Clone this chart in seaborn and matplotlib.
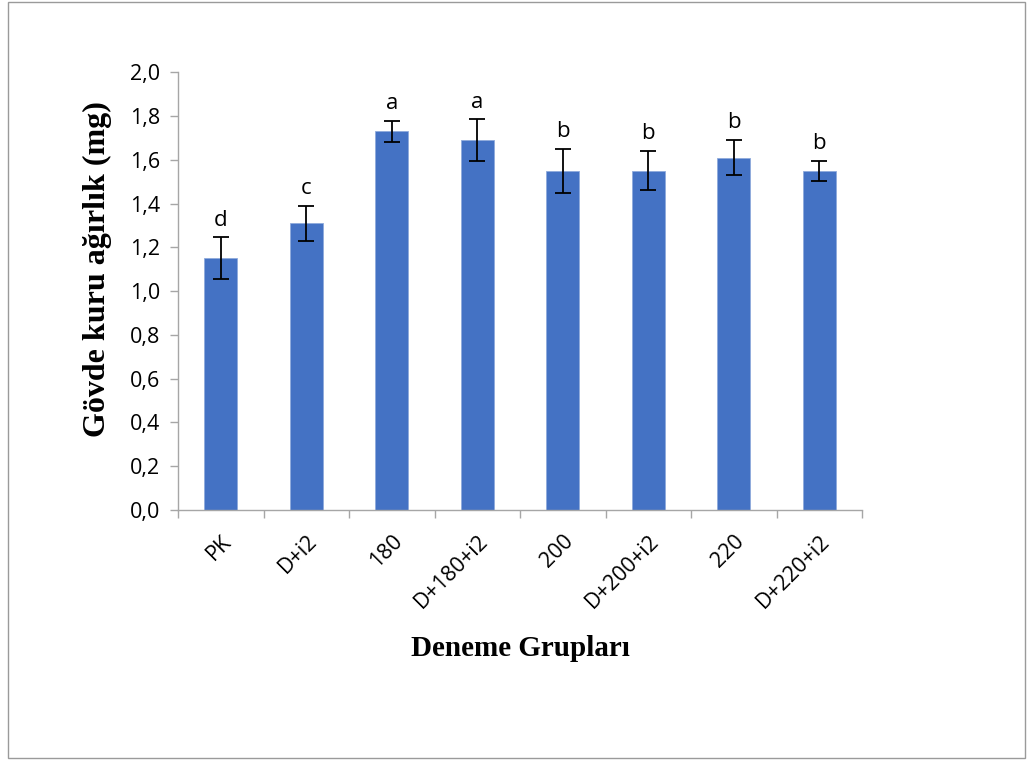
import numpy as np
import pandas as pd
import seaborn as sns
import matplotlib.pyplot as plt
from matplotlib.patches import Rectangle
from matplotlib.ticker import FuncFormatter, MultipleLocator

groups = ["PK", "D+i2", "180", "D+180+i2", "200", "D+200+i2", "220", "D+220+i2"]
means = [1.15, 1.31, 1.73, 1.69, 1.55, 1.55, 1.61, 1.55]
errors = [0.095, 0.08, 0.048, 0.095, 0.10, 0.09, 0.08, 0.045]
letters = ["d", "c", "a", "a", "b", "b", "b", "b"]

df = pd.DataFrame({"grup": groups, "deger": means})

sns.set_theme(style="white")
plt.rcParams["font.family"] = ["Open Sans", "DejaVu Sans"]
plt.rcParams["text.color"] = "black"
plt.rcParams["axes.labelcolor"] = "black"
plt.rcParams["xtick.labelcolor"] = "black"
plt.rcParams["ytick.labelcolor"] = "black"

fig = plt.figure(figsize=(10.31, 7.6), dpi=100)
ax = fig.add_axes([0.1727, 0.329, 0.6634, 0.576])

sns.barplot(data=df, x="grup", y="deger", color="#4472C4", saturation=1,
            width=0.39, errorbar=None, ax=ax)
for p in ax.patches:
    p.set_edgecolor("#8FAADC")
    p.set_linewidth(0.6)

xs = np.arange(len(groups))
ax.errorbar(xs, means, yerr=errors, fmt="none", ecolor="black",
            elinewidth=1.3, capsize=6, capthick=1.3)

# significance letters above each error bar
for x, m, e, l in zip(xs, means, errors, letters):
    ax.text(x, m + e + 0.03, l, ha="center", va="bottom", fontsize=16,
            color="black")

ax.set_ylim(0, 2.0)
ax.set_xlim(-0.5, len(groups) - 0.5)
ax.yaxis.set_major_locator(MultipleLocator(0.2))
ax.yaxis.set_major_formatter(FuncFormatter(lambda v, _: f"{v:.1f}".replace(".", ",")))

ax.set_xticks(np.arange(len(groups) + 1) - 0.5, minor=False)
ax.set_xticklabels([])
ax.set_xticks(xs, minor=True)
ax.set_xticklabels(groups, minor=True, rotation=45, ha="right",
                   rotation_mode="anchor", fontsize=15.5)
ax.tick_params(axis="x", which="minor", length=0, pad=15)
ax.tick_params(axis="x", which="major", length=6, color="#A6A6A6", width=1,
               direction="out", bottom=True)
ax.tick_params(axis="y", length=6, color="#A6A6A6", width=1, direction="out",
               left=True, labelsize=15.5, pad=7)

for s in ["top", "right"]:
    ax.spines[s].set_visible(False)
for s in ["left", "bottom"]:
    ax.spines[s].set_color("#A6A6A6")
    ax.spines[s].set_linewidth(1)

ax.set_xlabel("Deneme Grupları", fontsize=21, fontweight="bold",
              family="Liberation Serif", labelpad=16)
ax.set_ylabel("Gövde kuru ağırlık (mg)", fontsize=23, fontweight="bold",
              family="Liberation Serif")
ax.yaxis.set_label_coords(-0.097, 0.55)

fig.patches.append(Rectangle((0.008, 0.002), 0.986, 0.995, transform=fig.transFigure,
                             fill=False, edgecolor="#9A9A9A", linewidth=1))

fig.savefig("out.png", dpi=100)
